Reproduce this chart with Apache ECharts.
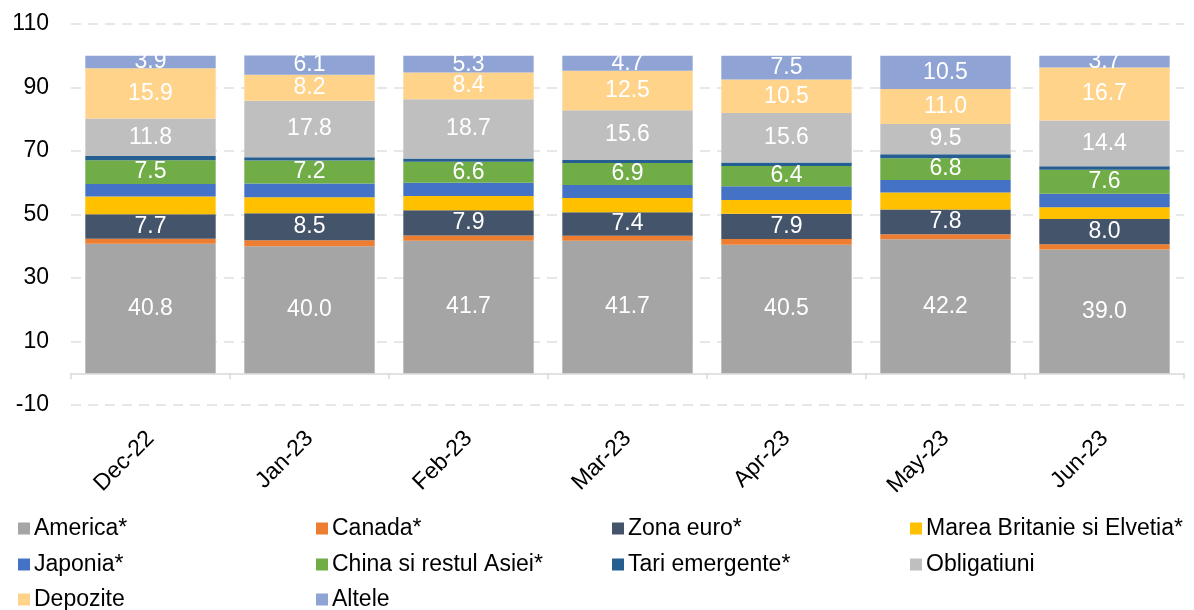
<!DOCTYPE html>
<html>
<head>
<meta charset="utf-8">
<script src="https://cdn.jsdelivr.net/npm/echarts@6/dist/echarts.min.js"></script>
<style>
html,body{margin:0;padding:0;background:#fff;}
#chart{width:1194px;height:610px;}
</style>
</head>
<body>
<div id="chart"></div>
<script>
const categories = ['Dec-22','Jan-23','Feb-23','Mar-23','Apr-23','May-23','Jun-23'];
const america      = [40.8, 40.0, 41.7, 41.7, 40.5, 42.2, 39.0];
const canada       = [1.6, 1.9, 1.7, 1.6, 1.8, 1.6, 1.6];
const zonaEuro     = [7.7, 8.5, 7.9, 7.4, 7.9, 7.8, 8.0];
const mareaBrit    = [5.6, 5.0, 4.5, 4.5, 4.4, 5.3, 3.7];
const japonia      = [3.9, 4.4, 4.2, 4.1, 4.3, 4.0, 4.2];
const chinaAsia    = [7.5, 7.2, 6.6, 6.9, 6.4, 6.8, 7.6];
const tariEmerg    = [1.3, 1.0, 1.0, 1.0, 1.1, 1.3, 1.1];
const obligatiuni  = [11.8, 17.8, 18.7, 15.6, 15.6, 9.5, 14.4];
const depozite     = [15.9, 8.2, 8.4, 12.5, 10.5, 11.0, 16.7];
const altele       = [3.9, 6.1, 5.3, 4.7, 7.5, 10.5, 3.7];
const yTicks = [-10, 10, 30, 50, 70, 90, 110];

const FONT = '"Liberation Sans", Arial, sans-serif';
const seriesDefs = [
  {name:'America*', data:america, color:'#A5A5A5', label:true},
  {name:'Canada*', data:canada, color:'#ED7D31', label:false},
  {name:'Zona euro*', data:zonaEuro, color:'#44546A', label:true},
  {name:'Marea Britanie si Elvetia*', data:mareaBrit, color:'#FFC000', label:false},
  {name:'Japonia*', data:japonia, color:'#4472C4', label:false},
  {name:'China si restul Asiei*', data:chinaAsia, color:'#70AD47', label:true},
  {name:'Tari emergente*', data:tariEmerg, color:'#255E91', label:false},
  {name:'Obligatiuni', data:obligatiuni, color:'#BFBFBF', label:true},
  {name:'Depozite', data:depozite, color:'#FFD38A', label:true},
  {name:'Altele', data:altele, color:'#8FA4D5', label:true}
];

const legendPos = [
  [18,517],[316,517],[612,517],[910,517],
  [18,553],[316,553],[612,553],[910,553],
  [18,588],[316,588]
];

const chart = echarts.init(document.getElementById('chart'), null, {renderer:'canvas'});
chart.setOption({
  animation:false,
  backgroundColor:'#fff',
  textStyle:{fontFamily:FONT},
  grid:{left:71, right:10, top:24, bottom:205, containLabel:false},
  legend: seriesDefs.map((s,i)=>({
    data:[s.name], left:legendPos[i][0], top:legendPos[i][1],
    icon:'rect', itemWidth:12, itemHeight:12, itemGap:0,
    textStyle:{fontSize:23, color:'#000', fontFamily:FONT, padding:[0,0,0,-1]},
    selectedMode:false, padding:0
  })),
  xAxis:{
    type:'category', data:categories, boundaryGap:true,
    axisLine:{show:true, onZero:true, lineStyle:{color:'#D9D9D9', width:1.5}},
    axisTick:{show:true, length:6, lineStyle:{color:'#D9D9D9', width:1.5}},
    axisLabel:{rotate:45, margin:30, fontSize:23, color:'#000', fontFamily:FONT, interval:0},
    splitLine:{show:false}
  },
  yAxis:{
    type:'value', min:yTicks[0], max:yTicks[yTicks.length-1], interval:20,
    axisLine:{show:false}, axisTick:{show:false},
    axisLabel:{fontSize:23, color:'#000', margin:22, fontFamily:FONT},
    splitLine:{show:true, lineStyle:{color:'#E0E0E0', type:[10,7], width:1.5}}
  },
  series: seriesDefs.map(s=>({
    name:s.name, type:'bar', stack:'total', data:s.data,
    barCategoryGap:'18%',
    itemStyle:{color:s.color},
    label:{show:s.label, position:'inside', color:'#fff', fontSize:23, fontFamily:FONT,
      formatter:p=>Number(p.value).toFixed(1)}
  }))
});
</script>
</body>
</html>
